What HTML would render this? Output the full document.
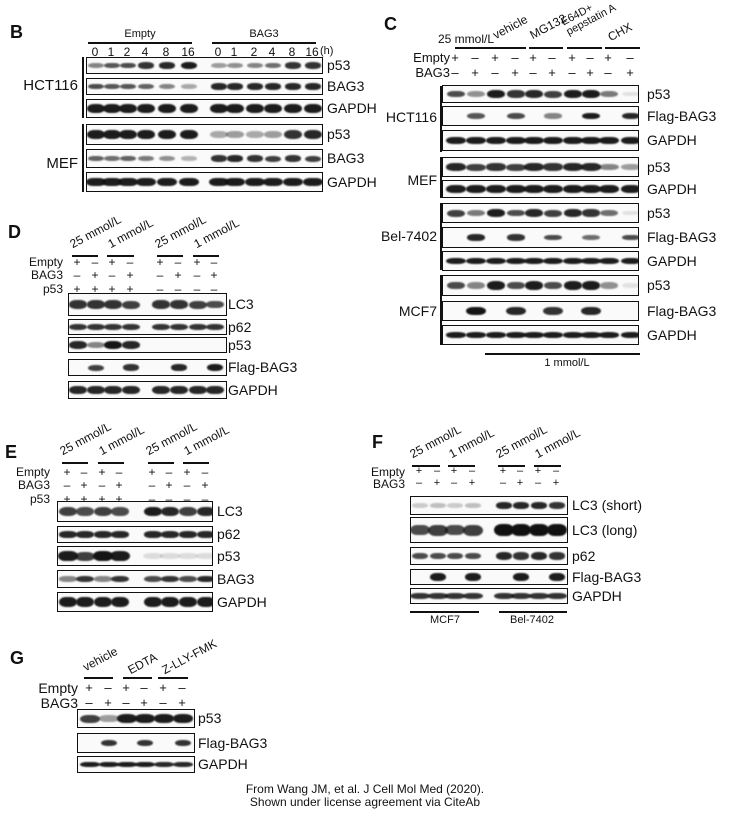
<!DOCTYPE html>
<html><head><meta charset="utf-8">
<style>
body{margin:0;width:732px;height:817px;background:#fff;position:relative;overflow:hidden;font-family:"Liberation Sans",Arial,sans-serif;color:#111}
.a{position:absolute;white-space:nowrap}
.c{position:absolute;white-space:nowrap;transform:translateX(-50%)}
.box{position:absolute;border:1.5px solid #111;box-sizing:border-box;background:#fafafa;overflow:hidden}
.bd{position:absolute;border-radius:40%/50%;background:#111;filter:blur(0.8px)}
.ln{position:absolute;height:1.5px;background:#111}
.vl{position:absolute;width:1.5px;background:#111}
.rot{position:absolute;white-space:nowrap;transform:rotate(-28deg);transform-origin:left bottom;font-size:12px}
</style></head><body>
<div id="r"></div>
<script>
const R=document.getElementById('r');
function add(h){R.insertAdjacentHTML('beforeend',h);}
function t(x,y,s,fs,extra){add(`<div class="a" style="left:${x}px;top:${y}px;font-size:${fs||13}px;${extra||''}">${s}</div>`);}
function tr(x,y,s,fs){add(`<div class="a" style="right:${732-x}px;top:${y}px;font-size:${fs||13}px">${s}</div>`);}
function tc(x,y,s,fs){add(`<div class="c" style="left:${x}px;top:${y}px;font-size:${fs||13}px">${s}</div>`);}
function ln(x1,x2,y){add(`<div class="ln" style="left:${x1}px;top:${y}px;width:${x2-x1}px"></div>`);}
function vl(x,y1,y2){add(`<div class="vl" style="left:${x}px;top:${y1}px;height:${y2-y1}px"></div>`);}
function row(x1,x2,y1,y2,lanes,ints,bw,bh,label,lx,fs){
 bw=bw*1.12;
 let h=`<div class="box" style="left:${x1}px;top:${y1}px;width:${x2-x1}px;height:${y2-y1}px">`;
 lanes.forEach((c,i)=>{const a=ints[i];if(a<=0)return;const hh=bh*(0.6+0.5*a);
 h+=`<div class="bd" style="left:${c-x1-bw/2}px;top:${(y2-y1)/2-hh/2-1}px;width:${bw}px;height:${hh}px;opacity:${a}"></div>`;});
 h+='</div>';add(h);
 if(label)t(lx,(y1+y2)/2-(fs||14)*0.6,label,fs||14);
}
function pm(lanes,y,arr,fs){lanes.forEach((c,i)=>tc(c,y,arr[i]?'+':'–',fs||12));}
// ===== B =====
t(10,22,'<b>B</b>',18);
tc(140,28,'Empty',11);tc(264,28,'BAG3',11);
ln(88,192,42);ln(212,316,42);
const LB=[95,111,127,145,166,188,218,234,254,272,292,312];
const LBt=['0','1','2','4','8','16','0','1','2','4','8','16'];
LB.forEach((c,i)=>tc(c,45,LBt[i],12));t(320,45,'(h)',11);
vl(82,57,118);vl(82,124,192);
tr(78,77,'HCT116',15);tr(78,155,'MEF',15);
row(86,323,57,74,LB,[.5,.7,.75,.85,.9,.95,.4,.45,.5,.6,.85,.85],15,6,'p53',327);
row(86,323,78,95,LB,[.75,.7,.7,.65,.5,.35,.9,.9,.9,.9,.9,.9],15,6,'BAG3',327);
row(86,323,99,118,LB,[.95,.95,.95,.95,.95,.95,.95,.95,.95,.95,.95,.95],16,9,'GAPDH',327);
row(86,323,124,145,LB,[.95,.95,.95,.95,.95,.95,.35,.4,.35,.4,.85,.9],16,9,'p53',327);
row(86,323,149,168,LB,[.65,.6,.65,.55,.45,.3,.85,.9,.85,.8,.85,.8],15,6,'BAG3',327);
row(86,323,172,192,LB,[.95,.95,.95,.95,.95,.95,.95,.95,.95,.95,.95,.95],17,8,'GAPDH',327);
// ===== C =====
t(384,14,'<b>C</b>',18);
const LC=[455,475,495,515,533,552,572,590,608,630];
t(438,32,'25 mmol/L',12);
ln(455,492,47);ln(491,526,47);ln(529,563,47);ln(567,602,47);ln(605,640,47);
add(`<div class="rot" style="left:497px;top:28px">vehicle</div>`);
add(`<div class="rot" style="left:534px;top:28px">MG132</div>`);
add(`<div class="rot" style="left:570px;top:16px;line-height:11px;font-size:11px">E64D+<br>pepstatin A</div>`);
add(`<div class="rot" style="left:612px;top:30px">CHX</div>`);
tr(450,50,'Empty',13);tr(450,65,'BAG3',13);
pm(LC,50,[1,0,1,0,1,0,1,0,1,0],13);pm(LC,65,[0,1,0,1,0,1,0,1,0,1],13);
vl(440,86,152);vl(440,157,198);vl(440,203,270);vl(440,275,345);
tr(437,109,'HCT116',14);tr(437,172,'MEF',14);tr(437,228,'Bel-7402',14);tr(437,303,'MCF7',14);
const CL=647;
row(442,639,85,103,LC,[.75,.45,.95,.85,.9,.8,.95,.95,.55,.1],16,7,'p53',CL);
row(442,639,106,126,LC,[0,.7,0,.75,0,.5,0,.95,0,.9],16,6,'Flag-BAG3',CL);
row(442,639,130,151,LC,[.95,.95,.95,.95,.95,.95,.95,.95,.95,.95],17,7,'GAPDH',CL);
row(442,639,157,177,LC,[.9,.8,.85,.8,.9,.85,.9,.9,.5,.4],17,7,'p53',CL);
row(442,639,180,198,LC,[.95,.95,.95,.95,.95,.95,.95,.95,.95,.95],17,7,'GAPDH',CL);
row(442,639,203,223,LC,[.8,.55,.95,.75,.9,.8,.9,.85,.6,.1],16,7,'p53',CL);
row(442,639,227,248,LC,[0,.9,0,.85,0,.75,0,.6,0,.75],16,6,'Flag-BAG3',CL);
row(442,639,251,271,LC,[.95,.95,.95,.95,.95,.95,.95,.95,.95,.95],18,6,'GAPDH',CL);
row(442,639,275,296,LC,[.75,.5,.95,.75,.95,.75,.95,.95,.45,.1],16,8,'p53',CL);
row(442,639,301,321,LC,[0,.98,0,.9,0,.85,0,.9,0,0],18,8,'Flag-BAG3',CL);
row(442,639,325,345,LC,[.95,.95,.95,.95,.95,.95,.95,.95,.95,.95],18,5,'GAPDH',CL);
ln(485,640,353);tc(567,357,'1 mmol/L',11);
// ===== D =====
t(8,222,'<b>D</b>',18);
const LD=[77,95,112,130,160,178,197,214];
function heads(lanes,lineY,segs){
 segs.forEach(s=>ln(s[0],s[1],lineY));
 [['25 mmol/L',segs[0][0]],['1 mmol/L',segs[1][0]+3],['25 mmol/L',segs[2][0]],['1 mmol/L',segs[3][0]+3]].forEach(a=>
 add(`<div class="rot" style="left:${a[1]+2}px;top:${lineY-18}px">${a[0]}</div>`));
}
heads(LD,255,[[72,98],[107,134],[157,183],[193,219]]);
tr(63,255,'Empty',12);tr(63,268,'BAG3',12);tr(63,282,'p53',12);
pm(LD,255,[1,0,1,0,1,0,1,0]);pm(LD,268,[0,1,0,1,0,1,0,1]);pm(LD,282,[1,1,1,1,0,0,0,0]);
row(68,227,293,316,LD,[.85,.85,.85,.8,.85,.85,.8,.75],16,8,'LC3',228,14);
row(68,227,319,335,LD,[.85,.85,.85,.85,.85,.85,.85,.85],16,6,'p62',228,14);
row(68,227,337,353,LD,[.9,.5,.98,.9,0,0,0,0],16,7,'p53',228,14);
row(68,227,359,376,LD,[0,.8,0,.85,0,.9,0,.95],15,6,'Flag-BAG3',228,14);
row(68,227,381,399,LD,[.9,.9,.9,.9,.9,.9,.9,.9],16,8,'GAPDH',228,14);
// ===== E =====
t(5,442,'<b>E</b>',18);
const LE=[67,84,102,119,152,169,187,205];
heads(LE,462,[[62,88],[98,124],[148,174],[183,209]]);
tr(50,465,'Empty',12);tr(50,478,'BAG3',12);tr(50,492,'p53',12);
pm(LE,465,[1,0,1,0,1,0,1,0]);pm(LE,478,[0,1,0,1,0,1,0,1]);pm(LE,492,[1,1,1,1,0,0,0,0]);
row(57,213,501,522,LE,[.8,.75,.8,.75,.95,.9,.8,.9],16,9,'LC3',217,14);
row(57,213,526,543,LE,[.9,.9,.9,.9,.9,.9,.9,.9],16,6,'p62',217,14);
row(57,213,546,566,LE,[.95,.8,.98,.95,.12,.12,.12,.12],17,9,'p53',217,14);
row(57,213,570,588,LE,[.5,.85,.5,.85,.75,.85,.75,.9],16,6,'BAG3',217,14);
row(57,213,592,612,LE,[.95,.95,.95,.95,.95,.95,.95,.95],16,10,'GAPDH',217,14);
// ===== F =====
t(372,432,'<b>F</b>',18);
const LF=[419,437,454,472,503,520,538,556];
heads(LF,465,[[412,440],[448,475],[498,525],[534,561]]);
tr(405,465,'Empty',12);tr(405,477,'BAG3',12);
pm(LF,465,[1,0,1,0,1,0,1,0],11);pm(LF,477,[0,1,0,1,0,1,0,1],11);
row(410,568,496,515,LF,[.2,.25,.2,.25,.9,.9,.9,.85],15,6,'LC3 (short)',572,14);
row(410,568,517,543,LF,[.75,.8,.75,.8,1,1,1,1],17,11,'LC3 (long)',572,14);
row(410,568,547,565,LF,[.75,.75,.75,.75,.9,.85,.9,.85],15,7,'p62',572,14);
row(410,568,569,585,LF,[0,.95,0,.95,0,.95,0,.95],14,7,'Flag-BAG3',572,14);
row(410,568,588,604,LF,[.85,.85,.85,.85,.85,.85,.85,.85],17,6,'GAPDH',572,14);
ln(410,479,611);ln(499,567,611);tc(445,614,'MCF7',11);tc(532,614,'Bel-7402',11);
// ===== G =====
t(10,648,'<b>G</b>',18);
const LG=[89,108,126,144,163,182];
ln(84,113,677);ln(123,152,677);ln(158,188,677);
add(`<div class="rot" style="left:87px;top:660px">vehicle</div>`);
add(`<div class="rot" style="left:132px;top:663px">EDTA</div>`);
add(`<div class="rot" style="left:166px;top:663px">Z-LLY-FMK</div>`);
tr(78,680,'Empty',14);tr(78,695,'BAG3',14);
pm(LG,680,[1,0,1,0,1,0],13);pm(LG,695,[0,1,0,1,0,1],13);
row(77,195,709,728,LG,[.8,.4,.95,.95,.95,.95],17,8,'p53',198,14);
row(77,195,733,753,LG,[0,.85,0,.85,0,.85],15,6,'Flag-BAG3',198,14);
row(77,195,756,773,LG,[.95,.95,.95,.95,.9,.9],17,5,'GAPDH',198,14);
// citation
tc(365,782,'From Wang JM, et al. J Cell Mol Med (2020).',12);
tc(365,795,'Shown under license agreement via CiteAb',12);
</script>
</body></html>
